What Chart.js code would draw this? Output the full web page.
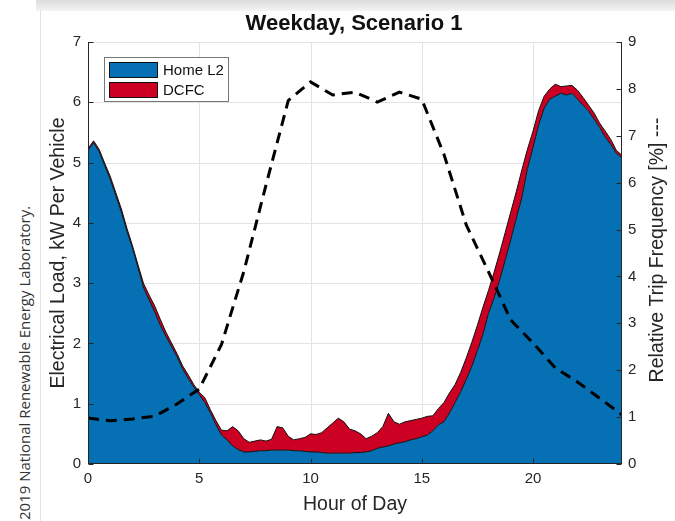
<!DOCTYPE html>
<html><head><meta charset="utf-8">
<script src="https://cdn.jsdelivr.net/npm/chart.js@4/dist/chart.umd.min.js"></script>
<style>
html,body{margin:0;padding:0;background:#fff;width:675px;height:521px;overflow:hidden;}
#shadowTop{position:absolute;left:36px;top:0;width:639px;height:11px;background:linear-gradient(#dcdcdc,#f4f4f4);}
#edge{position:absolute;left:40px;top:10px;width:1px;height:511px;background:#e2e2e2;}
#credit{position:absolute;left:16px;top:520px;transform-origin:0 0;transform:rotate(-90deg);font:15px "Open Sans",sans-serif;color:#333;white-space:nowrap;line-height:16px;}
#wrap{position:absolute;left:0;top:0;width:675px;height:521px;}
</style></head>
<body>
<div id="shadowTop"></div><div id="edge"></div>
<div id="credit">2019 National Renewable Energy Laboratory.</div>
<div id="wrap"><canvas id="c" width="675" height="521"></canvas></div>
<script>
// ---- DATA ----
const chartTitle = "Weekday, Scenario 1";
const xTitle = "Hour of Day";
const yTitle = "Electrical Load, kW Per Vehicle";
const y2Title = "Relative Trip Frequency [%] ---";
const seriesNames = ["Home L2", "DCFC"];

const hours = [0,0.25,0.5,0.75,1,1.25,1.5,1.75,2,2.25,2.5,2.75,3,3.25,3.5,3.75,4,4.25,4.5,4.75,
5,5.25,5.5,5.75,6,6.25,6.5,6.75,7,7.25,7.5,7.75,8,8.25,8.5,8.75,9,9.25,9.5,9.75,
10,10.25,10.5,10.75,11,11.25,11.5,11.75,12,12.25,12.5,12.75,13,13.25,13.5,13.75,14,14.25,14.5,14.75,
15,15.25,15.5,15.75,16,16.25,16.5,16.75,17,17.25,17.5,17.75,18,18.25,18.5,18.75,19,19.25,19.5,19.75,
20,20.25,20.5,20.75,21,21.25,21.5,21.75,22,22.25,22.5,22.75,23,23.25,23.5,23.75,24];

const homeL2 = [5.20,5.33,5.18,4.95,4.72,4.45,4.18,3.86,3.58,3.25,2.92,2.72,2.52,2.30,2.12,1.95,1.78,1.58,1.42,1.28,
1.15,1.02,0.85,0.65,0.48,0.40,0.30,0.24,0.20,0.20,0.21,0.22,0.22,0.23,0.23,0.23,0.23,0.22,0.22,0.21,
0.20,0.20,0.19,0.18,0.18,0.18,0.18,0.18,0.19,0.19,0.20,0.22,0.26,0.28,0.30,0.33,0.35,0.37,0.40,0.42,
0.45,0.48,0.55,0.65,0.70,0.85,1.02,1.20,1.40,1.62,1.88,2.15,2.50,2.75,3.05,3.38,3.72,4.08,4.42,4.90,
5.25,5.62,5.90,6.05,6.10,6.15,6.12,6.15,6.05,5.95,5.85,5.72,5.58,5.42,5.30,5.15,5.08];

const dcfc = [0.03,0.03,0.04,0.04,0.05,0.05,0.05,0.05,0.04,0.05,0.07,0.08,0.10,0.10,0.07,0.06,0.05,0.05,0.06,0.04,
0.04,0.08,0.05,0.07,0.08,0.15,0.32,0.31,0.22,0.16,0.17,0.18,0.16,0.18,0.39,0.37,0.23,0.18,0.20,0.23,
0.30,0.29,0.33,0.42,0.50,0.58,0.52,0.40,0.36,0.31,0.22,0.24,0.26,0.34,0.54,0.37,0.31,0.33,0.32,0.32,
0.31,0.31,0.25,0.27,0.32,0.33,0.30,0.32,0.36,0.40,0.42,0.45,0.38,0.43,0.45,0.46,0.46,0.44,0.46,0.32,
0.27,0.24,0.20,0.17,0.20,0.11,0.15,0.13,0.15,0.13,0.10,0.10,0.07,0.10,0.08,0.05,0.04];

const tripHours = [0,1,2,3,4,5,6,7,8,9,10,11,12,13,14,15,16,17,18,19,20,21,22,23,24];
const tripFreq = [0.98,0.92,0.96,1.02,1.28,1.60,2.55,4.10,5.95,7.75,8.15,7.87,7.93,7.72,7.93,7.78,6.60,5.10,4.10,3.07,2.58,2.05,1.75,1.40,1.05];

const xTicks = [0,5,10,15,20];
const yTicks = [0,1,2,3,4,5,6,7];
const y2Ticks = [0,1,2,3,4,5,6,7,8,9];

// ---- STYLE ----
const BLUE = '#0570B4';
const RED = '#CC0022';
const AXIS = '#262626';
const FONT = "'Liberation Sans', Arial, sans-serif";

const decor = {
  id: 'decor',
  beforeDatasetsDraw(chart) {
    const {ctx, chartArea: ca, scales} = chart;
    ctx.save();
    ctx.strokeStyle = '#e3e3e3';
    ctx.lineWidth = 1;
    xTicks.forEach(v => {
      if (v === 0) return;
      const x = Math.round(scales.x.getPixelForValue(v)) + 0.5;
      ctx.beginPath(); ctx.moveTo(x, ca.top); ctx.lineTo(x, ca.bottom); ctx.stroke();
    });
    yTicks.forEach(v => {
      if (v === 0) return;
      const y = Math.round(scales.y.getPixelForValue(v)) + 0.5;
      ctx.beginPath(); ctx.moveTo(ca.left, y); ctx.lineTo(ca.right, y); ctx.stroke();
    });
    ctx.restore();
  },
  afterDatasetsDraw(chart) {
    const {ctx, chartArea: ca, scales} = chart;
    ctx.save();
    ctx.strokeStyle = AXIS;
    ctx.lineWidth = 1;
    const L = Math.round(ca.left) + 0.5, R = Math.round(ca.right) - 0.5, B = Math.round(ca.bottom) - 0.5, T = Math.round(ca.top);
    ctx.beginPath();
    ctx.moveTo(L, T); ctx.lineTo(L, B + 0.5);
    ctx.moveTo(R, T); ctx.lineTo(R, B + 0.5);
    ctx.moveTo(ca.left, B); ctx.lineTo(ca.right, B);
    yTicks.forEach(v => { const y = Math.round(scales.y.getPixelForValue(v)) + 0.5; ctx.moveTo(L, y); ctx.lineTo(L + 5, y); });
    y2Ticks.forEach(v => { const y = Math.round(scales.y2.getPixelForValue(v)) + 0.5; ctx.moveTo(R, y); ctx.lineTo(R - 5, y); });
    xTicks.forEach(v => { const x = Math.round(scales.x.getPixelForValue(v)) + 0.5; ctx.moveTo(x, B); ctx.lineTo(x, B - 5); });
    ctx.stroke();
    ctx.restore();
  },
  afterDraw(chart) {
    const {ctx, chartArea: ca} = chart;
    ctx.save();
    ctx.fillStyle = '#111';
    ctx.textAlign = 'center';
    ctx.textBaseline = 'middle';
    ctx.font = "bold 22px " + FONT;
    ctx.fillText(chartTitle, 354, 24);
    ctx.fillStyle = AXIS;
    ctx.font = "19.5px " + FONT;
    ctx.fillText(xTitle, 355, 505);
    ctx.save(); ctx.translate(59, 253); ctx.rotate(-Math.PI / 2); ctx.fillText(yTitle, 0, 0); ctx.restore();
    ctx.save(); ctx.translate(658, 250); ctx.rotate(-Math.PI / 2); ctx.fillText(y2Title, 0, 0); ctx.restore();
    // legend
    ctx.fillStyle = '#fff';
    ctx.fillRect(104.5, 57.5, 124, 44);
    ctx.strokeStyle = '#777';
    ctx.lineWidth = 1;
    ctx.strokeRect(104.5, 57.5, 124, 44);
    const cols = [BLUE, RED];
    seriesNames.forEach((n, i) => {
      const y = 62.5 + i * 20;
      ctx.fillStyle = cols[i];
      ctx.fillRect(109.5, y, 48, 15);
      ctx.strokeStyle = '#111';
      ctx.strokeRect(109.5, y, 48, 15);
      ctx.fillStyle = '#111';
      ctx.textAlign = 'left';
      ctx.font = "15px " + FONT;
      ctx.fillText(n, 163, y + 8);
    });
    ctx.restore();
  }
};

const tickFont = {family: FONT, size: 15};
new Chart(document.getElementById('c'), {
  type: 'line',
  data: {
    datasets: [
      {label: 'Trip', data: tripHours.map((h, i) => ({x: h, y: tripFreq[i]})), yAxisID: 'y2',
       borderColor: '#000', borderWidth: 3, borderDash: [11, 7], pointRadius: 0, fill: false, tension: 0},
      {label: seriesNames[0], data: hours.map((h, i) => ({x: h, y: homeL2[i]})), yAxisID: 'y',
       borderColor: '#111', borderWidth: 1, backgroundColor: BLUE, fill: 'origin', pointRadius: 0, tension: 0},
      {label: seriesNames[1], data: hours.map((h, i) => ({x: h, y: homeL2[i] + dcfc[i]})), yAxisID: 'y',
       borderColor: '#111', borderWidth: 1, backgroundColor: RED, fill: '-1', pointRadius: 0, tension: 0}
    ]
  },
  options: {
    responsive: false, animation: false, devicePixelRatio: 1,
    layout: {padding: {top: 42, left: 0, right: 0, bottom: 0}},
    plugins: {legend: {display: false}, tooltip: {enabled: false}, title: {display: false}},
    scales: {
      x: {type: 'linear', min: 0, max: 24,
          grid: {display: false, drawTicks: false}, border: {display: false},
          ticks: {stepSize: 5, padding: 6, color: AXIS, font: tickFont, maxRotation: 0, autoSkip: false},
          afterBuildTicks: s => { s.ticks = xTicks.map(v => ({value: v})); },
          afterFit: s => { s.height = 57; }},
      y: {position: 'left', min: 0, max: 7,
          grid: {display: false, drawTicks: false}, border: {display: false},
          ticks: {stepSize: 1, padding: 7, color: AXIS, font: tickFont},
          afterBuildTicks: s => { s.ticks = yTicks.map(v => ({value: v})); },
          afterFit: s => { s.width = 88; }},
      y2: {position: 'right', min: 0, max: 9,
          grid: {display: false, drawTicks: false}, border: {display: false},
          ticks: {stepSize: 1, padding: 6, color: AXIS, font: tickFont},
          afterBuildTicks: s => { s.ticks = y2Ticks.map(v => ({value: v})); },
          afterFit: s => { s.width = 53; }}
    }
  },
  plugins: [decor]
});
</script>
</body></html>
